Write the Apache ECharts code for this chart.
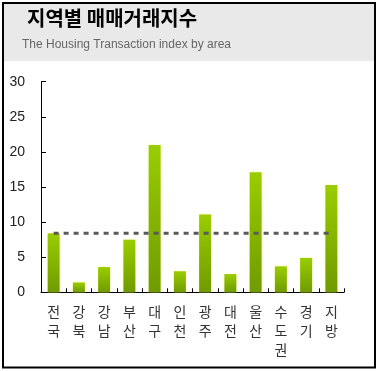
<!DOCTYPE html>
<html>
<head>
<meta charset="utf-8">
<script src="https://cdn.jsdelivr.net/npm/echarts@6/dist/echarts.min.js"></script>
<style>
html,body{margin:0;padding:0;background:#fff;}
#c{width:378px;height:371px;}
</style>
</head>
<body>
<div id="c"></div>
<script>
const categories = ['전국','강북','강남','부산','대구','인천','광주','대전','울산','수도권','경기','지방'];
const values = [8.4, 1.4, 3.6, 7.5, 21.0, 3.0, 11.1, 2.6, 17.1, 3.7, 4.9, 15.3];
const averageValue = 8.4;
const averageLine = categories.map(() => averageValue);
const yTicks = [0, 5, 10, 15, 20, 25, 30];
const titleText = '지역별 매매거래지수';
const subtitleText = 'The Housing Transaction index by area';

const chart = echarts.init(document.getElementById('c'), null, {renderer: 'canvas'});
const option = {
  animation: false,
  backgroundColor: '#fff',
  graphic: [
    {type: 'rect', z: -10, shape: {x: 3, y: 3, width: 372, height: 58}, style: {fill: '#e9e9e9'}},
    {type: 'rect', z: 100, shape: {x: 3, y: 3, width: 372, height: 364.5}, style: {fill: 'none', stroke: '#000', lineWidth: 2}},
    {type: 'text', z: 10, x: 27, y: 8, style: {text: titleText, font: 'bold 20px "Noto Sans CJK KR"', fill: '#000'}},
    {type: 'text', z: 10, x: 22, y: 39, style: {text: subtitleText, font: '12px "Liberation Sans", Arial', fill: '#666'}}
  ],
  grid: {left: 41, right: 34, top: 81.7, bottom: 78.7, containLabel: false},
  xAxis: {
    type: 'category',
    data: categories,
    boundaryGap: true,
    axisLine: {lineStyle: {color: '#000', width: 1}},
    axisTick: {show: true, inside: true, length: 4, lineStyle: {color: '#000'}},
    axisLabel: {
      interval: 0,
      margin: 10,
      fontSize: 14,
      lineHeight: 19,
      color: '#333',
      fontFamily: '"Noto Sans CJK KR"',
      formatter: v => v.split('').join('\n')
    }
  },
  yAxis: {
    type: 'value',
    min: yTicks[0],
    max: yTicks[yTicks.length - 1],
    interval: 5,
    axisLine: {show: true, lineStyle: {color: '#000', width: 1}},
    axisTick: {show: true, inside: true, length: 5, lineStyle: {color: '#000'}},
    splitLine: {show: false},
    axisLabel: {margin: 16, fontSize: 14, color: '#222', fontFamily: '"Liberation Sans", Arial'}
  },
  series: [
    {
      type: 'bar',
      data: values,
      barWidth: 12,
      itemStyle: {
        color: new echarts.graphic.LinearGradient(0, 0, 0, 1, [
          {offset: 0, color: '#9acd00'},
          {offset: 1, color: '#6f9b00'}
        ]),
        shadowColor: 'rgba(255,255,140,0.9)',
        shadowBlur: 3
      }
    },
    {
      type: 'line',
      data: averageLine,
      symbol: 'none',
      z: 5,
      lineStyle: {color: '#5a5a5a', width: 3, type: [5, 5]}
    }
  ]
};
chart.setOption(option);
</script>
</body>
</html>
